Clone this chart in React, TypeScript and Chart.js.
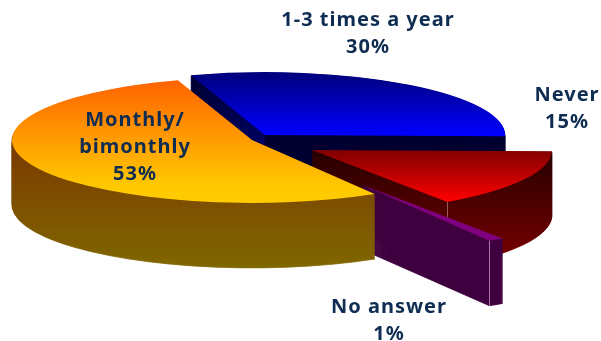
import React, { useEffect, useRef } from "react";
import { Chart, ArcElement, DoughnutController } from "chart.js";

Chart.register(ArcElement, DoughnutController);

// Shares of respondents, clockwise from the back-left of the pie.
const categories = ["1-3 times a year", "Never", "No answer", "Monthly/\nbimonthly"];
const shares = [30, 15, 1, 53];

const TILT = 0.262; // vertical squash of the disc
const DEPTH = 65; // wall height in px
const RADIUS = 240;
const START_ROTATION = -18;

// How far each slice is pulled away from the pie centre, and its radius scale.
const explode = [
  { dx: 3, dy: -5, scale: 1 },
  { dx: 50, dy: 10, scale: 1 },
  { dx: 101, dy: 45, scale: 1.03 },
  { dx: -10, dy: 0, scale: 1 },
];

const labelAnchors = [
  { x: 368, y: 20 },
  { x: 567, y: 95 },
  { x: 389, y: 307 },
  { x: 135, y: 120 },
];

// Pale seam down the front corner of a wall, where the reflection catches it.
const seamColors = [null, "#9a5a5a", "#a878a8", null];

type Stop = [number, string];
const grad = (c: CanvasRenderingContext2D, x0: number, y0: number, x1: number, y1: number, stops: Stop[]) => {
  const g = c.createLinearGradient(x0, y0, x1, y1);
  stops.forEach(([p, col]) => g.addColorStop(p, col));
  return g;
};

// Wall shading per slice, in canvas coordinates.
const wallFill = (c: CanvasRenderingContext2D, i: number) => {
  if (i === 0)
    return grad(c, 188, 0, 505, 0, [
      [0, "#000034"],
      [0.24, "#00005e"],
      [0.245, "#000030"],
      [1, "#000030"],
    ]);
  if (i === 1)
    return grad(c, 0, 150, 0, 252, [
      [0, "#250000"],
      [1, "#720000"],
    ]);
  if (i === 2) return "#400040";
  return grad(c, 0, 135, 0, 270, [
    [0, "#7a3600"],
    [1, "#806800"],
  ]);
};

// Top-face shading per slice, relative to the slice apex in the unsquashed plane.
const topFill = (ctx: any) => {
  const area = ctx.chart.chartArea;
  const c = ctx.chart.ctx as CanvasRenderingContext2D;
  if (!area) return "#888";
  const cy = (area.top + area.bottom) / 2;
  switch (ctx.dataIndex) {
    case 0:
      return grad(c, 0, cy - RADIUS * 0.95, 0, cy, [
        [0, "#000080"],
        [1, "#0000ff"],
      ]);
    case 1:
      return grad(c, 0, cy, 0, cy + RADIUS * 0.82, [
        [0, "#800000"],
        [1, "#ff0000"],
      ]);
    case 2:
      return "#800080";
    default:
      return grad(c, 0, cy - RADIUS * 0.9, 0, cy + RADIUS, [
        [0, "#ff6600"],
        [0.85, "#ffc800"],
        [1, "#ffcc00"],
      ]);
  }
};

// Doughnut controller that paints every slice as a tilted, extruded wedge.
class Pie3DController extends DoughnutController {
  draw() {
    const c = this.chart.ctx as CanvasRenderingContext2D;
    const arcs = this.getMeta().data as any[];
    arcs.forEach((arc, i) => {
      const { x, y, startAngle, endAngle, outerRadius } = arc;
      const e = explode[i];
      const place = (lift: number) => {
        c.translate(x + e.dx, y + e.dy + lift);
        c.scale(e.scale, TILT * e.scale);
        c.translate(-x, -y);
      };
      const base = c.getTransform();
      const wall = wallFill(c, i);
      c.save();
      c.fillStyle = wall;
      c.strokeStyle = wall;
      c.lineWidth = 0.8;
      for (let h = DEPTH; h > 0; h--) {
        c.save();
        place(h);
        c.beginPath();
        c.moveTo(x, y);
        c.arc(x, y, outerRadius, startAngle, endAngle);
        c.closePath();
        c.setTransform(base);
        c.fill();
        c.stroke(); // closes the hairline gaps between stacked layers
        c.restore();
      }
      c.restore();
      const seam = seamColors[i];
      if (seam) {
        const cornerX = x + e.dx + Math.cos(endAngle) * outerRadius * e.scale;
        const cornerY = y + e.dy + Math.sin(endAngle) * outerRadius * e.scale * TILT;
        c.save();
        c.strokeStyle = seam;
        c.lineWidth = 1;
        c.beginPath();
        c.moveTo(Math.round(cornerX) + 0.5, cornerY);
        c.lineTo(Math.round(cornerX) + 0.5, cornerY + DEPTH);
        c.stroke();
        c.restore();
      }
      c.save();
      place(0);
      arc.draw(c);
      c.restore();
    });
  }
}
(Pie3DController as any).id = "pie3d";
(Pie3DController as any).defaults = DoughnutController.defaults;
Chart.register(Pie3DController as any);

const sliceLabels = {
  id: "sliceLabels",
  afterDraw(chart: any) {
    const c = chart.ctx as CanvasRenderingContext2D;
    c.save();
    c.fillStyle = "#0f2d52";
    c.font = 'bold 20px "Noto Sans"';
    (c as any).letterSpacing = "1px";
    c.textAlign = "center";
    c.textBaseline = "middle";
    categories.forEach((name, i) => {
      const lines = [...name.split("\n"), `${shares[i]}%`];
      lines.forEach((line, j) => c.fillText(line, labelAnchors[i].x, labelAnchors[i].y + j * 27));
    });
    c.restore();
  },
};

export default function App() {
  const ref = useRef<HTMLCanvasElement>(null);
  useEffect(() => {
    document.body.style.margin = "0";
    const chart = new Chart(ref.current as HTMLCanvasElement, {
      type: "pie3d" as any,
      data: {
        labels: categories,
        datasets: [
          {
            data: shares,
            backgroundColor: topFill as any,
            borderWidth: 0,
            clip: false as any,
          },
        ],
      },
      options: {
        responsive: false,
        animation: false,
        rotation: START_ROTATION,
        radius: RADIUS,
        cutout: 0,
        layout: { padding: { right: 77, bottom: 61 } },
        plugins: { legend: { display: false }, tooltip: { enabled: false } },
      } as any,
      plugins: [sliceLabels],
    });
    return () => chart.destroy();
  }, []);
  return <canvas ref={ref} width={601} height={341} style={{ display: "block" }} />;
}
